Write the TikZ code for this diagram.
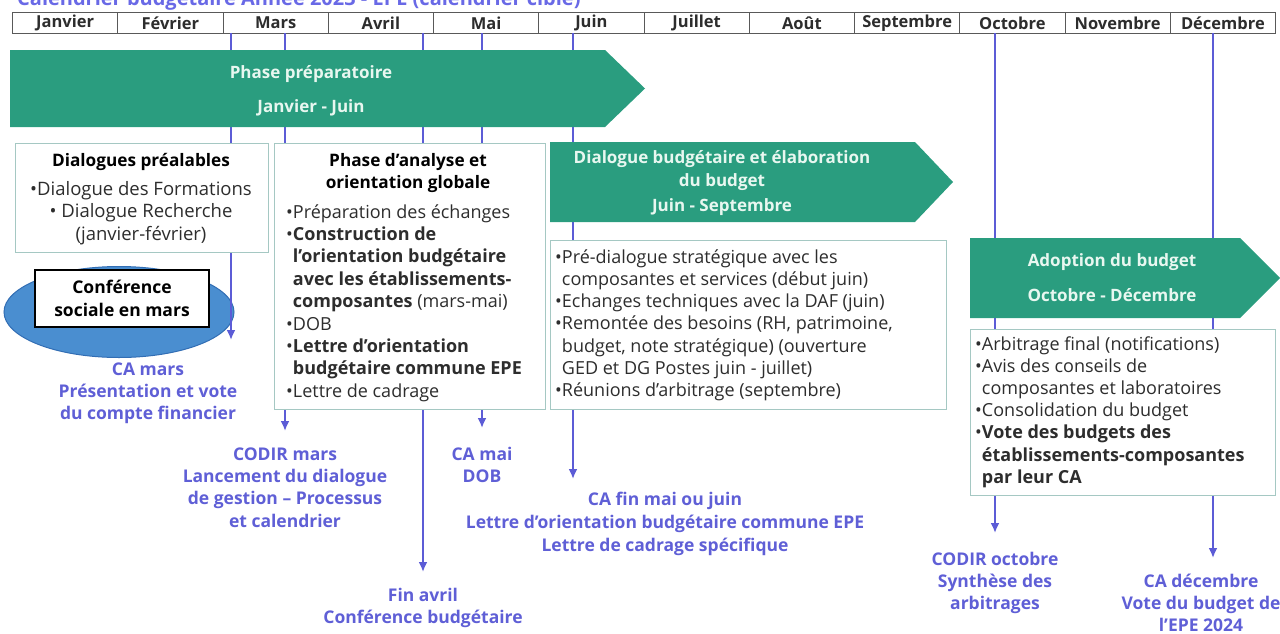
\documentclass[tikz,border=0pt]{standalone}
\usepackage{fontspec}
\setmainfont{Open Sans}
\usetikzlibrary{shapes.geometric,arrows.meta}
\definecolor{phasegreen}{RGB}{42,157,127}
\definecolor{phasetext}{RGB}{232,247,240}
\definecolor{lineblue}{RGB}{92,92,214}
\definecolor{labblue}{RGB}{95,95,214}
\definecolor{boxline}{RGB}{165,200,195}
\definecolor{titleblue}{RGB}{105,105,230}
\definecolor{ellblue}{RGB}{74,142,208}
\definecolor{ellline}{RGB}{50,110,180}
\definecolor{txtdark}{RGB}{45,45,45}
\tikzset{
  monthbox/.style={draw=black!65,line width=1pt,fill=white,minimum width=105.25pt,minimum height=21pt,anchor=north west,inner sep=0pt,font=\fontsize{16.5}{19}\selectfont\bfseries,text=txtdark},
  vline/.style={draw=lineblue,line width=2.4pt},
  vlinearr/.style={vline,-{Latex[length=10pt,width=9pt]}},
  infobox/.style={draw=boxline,line width=1.2pt,fill=white,anchor=north west,inner sep=0pt},
  phasearrow/.style={fill=phasegreen},
  phaselabel/.style={align=center,anchor=base,inner sep=0pt,text=phasetext,font=\fontsize{17}{22}\selectfont\bfseries},
  boxtitle/.style={align=center,anchor=base,inner sep=0pt,text=black,font=\fontsize{17.2}{22}\selectfont\bfseries},
  boxtext/.style={align=left,anchor=base west,inner sep=0pt,text=txtdark},
  bluelabel/.style={align=center,anchor=base,inner sep=0pt,text=labblue},
}
\begin{document}
\begin{tikzpicture}[x=1pt,y=-1pt]
\useasboundingbox (0,0) rectangle (1280,633);
% title (cut at top edge)
\node[anchor=base west,inner sep=0pt,text=titleblue,font=\fontsize{20}{24}\selectfont\bfseries] (title) at (17,5) {Calendrier budgétaire Année 2023 - EPE (calendrier cible)};
% month header
\foreach \m [count=\i from 0] in {Janvier,Février,Mars,Avril,Mai,Juin,Juillet,Août,Septembre,Octobre,Novembre,Décembre}{
  \node[monthbox] (m\i) at ({12+105.25*\i},12) {\m};
}
% vertical line endpoints
\coordinate (s1) at (231,33);  \coordinate (e1) at (231,340);
\coordinate (s2) at (285,33);  \coordinate (e2) at (285,431);
\coordinate (s3) at (423,33);  \coordinate (e3) at (423,572);
\coordinate (s4) at (482,33);  \coordinate (e4) at (482,428);
\coordinate (s5) at (573,33);  \coordinate (e5) at (573,479);
\coordinate (s6) at (995,33);  \coordinate (e6) at (995,533);
\coordinate (s7) at (1213,33); \coordinate (e7) at (1213,558);
% ellipse (under the lines)
\node[ellipse,fill=ellblue,draw=ellline,line width=1pt,minimum width=230pt,minimum height=91pt,inner sep=0pt] (ell) at (119,312) {};
% vertical connectors
\foreach \k in {1,...,7}{ \draw[vlinearr] (s\k) -- (e\k); }
% phase arrows
\fill[phasearrow] (10,50) -- (605,50) -- (645,88.5) -- (605,127) -- (10,127) -- cycle;
\node[phaselabel] (p1a) at (311,78) {Phase préparatoire};
\node[phaselabel] (p1b) at (311,112) {Janvier - Juin};
\fill[phasearrow] (550,142) -- (915,142) -- (953,182) -- (915,222) -- (550,222) -- cycle;
\node[phaselabel] (p2a) at (722,163) {Dialogue budgétaire et élaboration};
\node[phaselabel] (p2b) at (722,186) {du budget};
\node[phaselabel] (p2c) at (722,211) {Juin - Septembre};
\fill[phasearrow] (970,238) -- (1240,238) -- (1280,278) -- (1240,318) -- (970,318) -- cycle;
\node[phaselabel] (p3a) at (1112,266) {Adoption du budget};
\node[phaselabel] (p3b) at (1112,301) {Octobre - Décembre};
% Dialogues préalables box
\node[infobox,minimum width=253pt,minimum height=109pt] (b1) at (15,143) {};
\node[boxtitle] (b1t) at (141,166) {Dialogues préalables};
\node[align=center,anchor=base,inner sep=0pt,text=txtdark,font=\fontsize{18.5}{22.5}\selectfont] (b1x) at (141,240) {•Dialogue des Formations\\• Dialogue Recherche\\(janvier-février)};
% Conférence sociale
\node[draw=black,line width=1.5pt,fill=white,minimum width=174pt,minimum height=57pt,inner sep=0pt,align=center,text=black,font=\fontsize{17.5}{23}\selectfont\bfseries] (conf) at (122,298.5) {Conférence\\sociale en mars};
% Phase d'analyse box
\node[infobox,minimum width=271pt,minimum height=266pt] (b2) at (274,143) {};
\node[boxtitle] (b2t) at (408,188) {Phase d’analyse et\\orientation globale};
\node[boxtext,font=\fontsize{18}{22.4}\selectfont] (b2x) at (286,397.2) {•Préparation des échanges\\
•\textbf{Construction de}\\
\hphantom{•}\textbf{l’orientation budgétaire}\\
\hphantom{•}\textbf{avec les établissements-}\\
\hphantom{•}\textbf{composantes} (mars-mai)\\
•DOB\\
•\textbf{Lettre d’orientation}\\
\hphantom{•}\textbf{budgétaire commune EPE}\\
•Lettre de cadrage};
% Dialogue budgétaire box
\node[infobox,minimum width=396pt,minimum height=169pt] (b3) at (550,240) {};
\node[boxtext,font=\fontsize{18}{22.3}\selectfont] (b3x) at (555,396.8) {•Pré-dialogue stratégique avec les\\
\hphantom{•}composantes et services (début juin)\\
•Echanges techniques avec la DAF (juin)\\
•Remontée des besoins (RH, patrimoine,\\
\hphantom{•}budget, note stratégique) (ouverture\\
\hphantom{•}GED et DG Postes juin - juillet)\\
•Réunions d’arbitrage (septembre)};
% Adoption box
\node[infobox,minimum width=305pt,minimum height=166pt] (b4) at (970,329) {};
\node[boxtext,font=\fontsize{18}{22.2}\selectfont] (b4x) at (975,483.2) {•Arbitrage final (notifications)\\
•Avis des conseils de\\
\hphantom{•}composantes et laboratoires\\
•Consolidation du budget\\
•\textbf{Vote des budgets des}\\
\hphantom{•}\textbf{établissements-composantes}\\
\hphantom{•}\textbf{par leur CA}};
% blue milestone labels
\node[bluelabel,font=\fontsize{17.5}{22}\selectfont\bfseries] (l1) at (148,419) {CA mars\\Présentation et vote\\du compte financier};
\node[bluelabel,font=\fontsize{17.5}{22.3}\selectfont\bfseries] (l2) at (285,527) {CODIR mars\\Lancement du dialogue\\de gestion – Processus\\et calendrier};
\node[bluelabel,font=\fontsize{17.5}{22}\selectfont\bfseries] (l3) at (423,623) {Fin avril\\Conférence budgétaire};
\node[bluelabel,font=\fontsize{17.5}{22}\selectfont\bfseries] (l4) at (482,482) {CA mai\\DOB};
\node[bluelabel,font=\fontsize{17.5}{23}\selectfont\bfseries] (l5) at (665,551) {CA fin mai ou juin\\Lettre d’orientation budgétaire commune EPE\\Lettre de cadrage spécifique};
\node[bluelabel,font=\fontsize{17.5}{22}\selectfont\bfseries] (l6) at (995,609) {CODIR octobre\\Synthèse des\\arbitrages};
\node[bluelabel,font=\fontsize{17.5}{22}\selectfont\bfseries] (l7) at (1201,631) {CA décembre\\Vote du budget de\\l’EPE 2024};
\end{tikzpicture}
\end{document}
